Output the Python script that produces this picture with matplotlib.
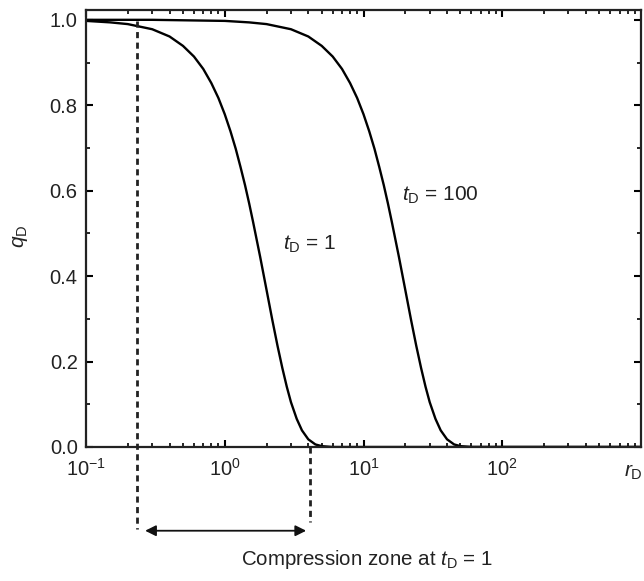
import matplotlib
matplotlib.use("Agg")
import matplotlib.pyplot as plt
from matplotlib.ticker import LogLocator, MultipleLocator, FixedLocator, NullFormatter

plt.rcParams['font.family'] = ['Liberation Sans', 'DejaVu Sans']
plt.rcParams['mathtext.fontset'] = 'custom'
plt.rcParams['mathtext.rm'] = 'Liberation Sans'
plt.rcParams['mathtext.it'] = 'Liberation Sans:italic'
plt.rcParams['mathtext.bf'] = 'Liberation Sans:bold'

# ---- data ----
r_td1 = [0.1, 0.15, 0.2, 0.3, 0.4, 0.5, 0.6, 0.7, 0.8, 0.9, 1.0, 1.1, 1.2, 1.3, 1.4,
         1.5, 1.6, 1.8, 2.0, 2.2, 2.4, 2.6, 2.8, 3.0, 3.3, 3.6, 4.0, 4.5, 5.0, 6.0,
         10.0, 100.0, 1000.0]
q_td1 = [0.9975, 0.994, 0.990, 0.978, 0.961, 0.939, 0.914, 0.885, 0.852, 0.817, 0.779,
         0.739, 0.698, 0.655, 0.613, 0.570, 0.527, 0.445, 0.368, 0.298, 0.237, 0.185,
         0.141, 0.105, 0.066, 0.039, 0.018, 0.006, 0.002, 0.0, 0.0, 0.0, 0.0]

r_td100 = [0.1, 0.3, 1.0, 1.5, 2.0, 3.0, 4.0, 5.0, 6.0, 7.0, 8.0, 9.0, 10.0, 11.0, 12.0,
           13.0, 14.0, 15.0, 16.0, 18.0, 20.0, 22.0, 24.0, 26.0, 28.0, 30.0, 33.0, 36.0,
           40.0, 45.0, 50.0, 60.0, 100.0, 1000.0]
q_td100 = [1.0, 1.0, 0.9975, 0.994, 0.990, 0.978, 0.961, 0.939, 0.914, 0.885, 0.852,
           0.817, 0.779, 0.739, 0.698, 0.655, 0.613, 0.570, 0.527, 0.445, 0.368, 0.298,
           0.237, 0.185, 0.141, 0.105, 0.066, 0.039, 0.018, 0.006, 0.002, 0.0, 0.0, 0.0]

zone_start = 0.234   # r_D where compression zone begins (t_D = 1)
zone_end = 4.13      # r_D where compression zone ends (t_D = 1)

x_tick_vals = [0.1, 1, 10, 100]
x_tick_labels = [r'$10^{-1}$', r'$10^{0}$', r'$10^{1}$', r'$10^{2}$']
y_tick_vals = [0.0, 0.2, 0.4, 0.6, 0.8, 1.0]
y_tick_labels = ['0.0', '0.2', '0.4', '0.6', '0.8', '1.0']

# ---- figure ----
fig = plt.figure(figsize=(6.44, 5.81), dpi=100)
ax = fig.add_axes([86/644, 1 - 447/581, (641 - 86)/644, (447 - 10)/581])

ax.plot(r_td1, q_td1, color='black', lw=1.7, solid_capstyle='round')
ax.plot(r_td100, q_td100, color='black', lw=1.7, solid_capstyle='round')

ax.set_xscale('log')
ax.set_xlim(0.1, 1000)
ax.set_ylim(0.0, 1.023)

ax.xaxis.set_major_locator(FixedLocator(x_tick_vals))
ax.set_xticklabels(x_tick_labels)
ax.xaxis.set_minor_locator(LogLocator(base=10, subs=range(2, 10), numticks=20))
ax.xaxis.set_minor_formatter(NullFormatter())
ax.yaxis.set_major_locator(FixedLocator(y_tick_vals))
ax.set_yticklabels(y_tick_labels)
ax.yaxis.set_minor_locator(MultipleLocator(0.1))

ax.tick_params(which='both', direction='in', top=True, right=True, labelsize=14.5,
               colors='black', labelcolor='#222222')
ax.tick_params(which='major', length=5, width=1.5, pad=6)
ax.tick_params(axis='x', which='major', pad=8)
ax.tick_params(which='minor', length=3, width=1.2)
for s in ax.spines.values():
    s.set_linewidth(1.6)
    s.set_color('#222222')

# axis labels
fig.text(633/644, 1 - 477/581, r'$r_{\mathrm{D}}$', fontsize=15, ha='center',
         va='baseline', color='#222222')
fig.text(20/644, 1 - 236/581, r'$q_{\mathrm{D}}$', fontsize=15, rotation=90,
         ha='center', va='center', color='#222222')

# curve labels
ax.text(2.63, 0.475, r'$t_{\mathrm{D}}$ = 1', fontsize=15, ha='left', va='center',
        color='#222222')
ax.text(18.8, 0.59, r'$t_{\mathrm{D}}$ = 100', fontsize=15, ha='left', va='center',
        color='#222222')

# compression zone markers
ax.plot([zone_start, zone_start], [0.997, -0.192], color='#222222', lw=2.0,
        ls=(0, (2.2, 1.6)), clip_on=False)
ax.plot([zone_end, zone_end], [0.0, -0.175], color='#222222', lw=2.0,
        ls=(0, (2.2, 1.6)), clip_on=False)
ax.annotate('', xy=(zone_start * 1.14, -0.196), xytext=(zone_end * 0.935, -0.196),
            xycoords='data', textcoords='data', annotation_clip=False,
            arrowprops=dict(arrowstyle='<|-|>', color='#111111', lw=1.3,
                            mutation_scale=16, shrinkA=0, shrinkB=0))
fig.text(367/644, 1 - 565/581, r'Compression zone at $t_{\mathrm{D}}$ = 1', fontsize=14.8,
         ha='center', va='baseline', color='#222222')

fig.savefig('out.png', dpi=100)
